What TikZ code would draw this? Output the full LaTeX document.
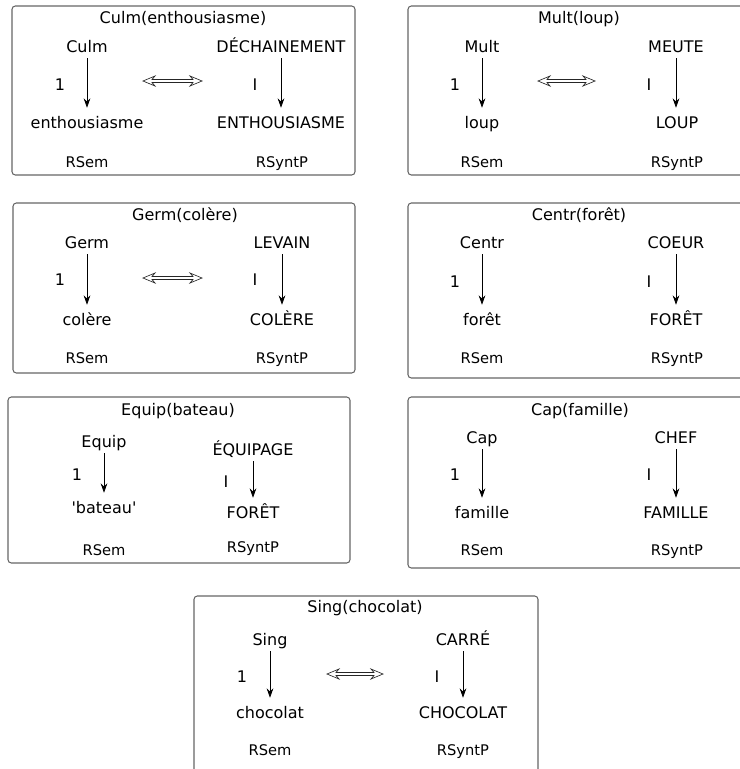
\documentclass[tikz,border=0pt]{standalone}
\usepackage{fontspec}
\setmainfont{DejaVu Sans}
\newfontfamily\rawfont{DejaVu Sans}[Ligatures=TeXOff]
\usetikzlibrary{arrows.meta}
\tikzset{
  lbl/.style={font=\fontsize{12}{14}\selectfont, anchor=base, inner sep=0pt, text height=9pt, text depth=2.5pt},
  lvl/.style={font=\fontsize{11}{13}\selectfont, anchor=base, inner sep=0pt},
  frame/.style={draw=black!60, rounded corners=2.5pt, line width=0.8pt},
  dep/.style={-{Stealth[length=7pt,width=5pt]}, line width=0.6pt, shorten <=2pt, shorten >=6pt},
  equiv/.style={draw=black!85, line width=0.5pt, line join=miter}
}
% open double-shafted arrow (outline) of length #2 starting at coordinate #1
\newcommand\eqvarrow[2]{%
  \draw[equiv] (#1) -- ++(12,-5) -- ++(-3,3.5) -- ++(#2-18,0) -- ++(-3,-3.5)
    -- ++(12,5) -- ++(-12,5) -- ++(3,-3.5) -- ++(-#2+18,0) -- ++(3,3.5) -- cycle;}
\begin{document}
\begin{tikzpicture}[x=0.75pt, y=-0.75pt]
\useasboundingbox (0,0) rectangle (740,769);
\begin{scope}
\clip (0,0) rectangle (740,769);

% ---------- Box 1: Culm ----------
\draw[frame] (12,6) rectangle (355,175);
\node[lbl] (t1) at (183,23) {Culm(enthousiasme)};
\node[lbl] (s1a) at (87,52) {Culm};
\node[lbl] (s1b) at (87,128) {enthousiasme};
\node[lbl] (n1) at (60,90) {1};
\node[lbl] (p1a) at (281,52) {DÉCHAINEMENT};
\node[lbl] (p1b) at (281,128) {ENTHOUSIASME};
\node[lbl] (r1) at (255,90) {I};
\node[lvl] (m1) at (87,167) {RSem};
\node[lvl] (y1) at (282,167) {RSyntP};
\draw[dep] (s1a) -- (s1b);
\draw[dep] (p1a) -- (p1b);
\coordinate (e1a) at (143,81);
\eqvarrow{e1a}{59}

% ---------- Box 2: Mult ----------
\draw[frame] (408,6) rectangle (750,175);
\node[lbl] (t2) at (579,23) {Mult(loup)};
\node[lbl] (s2a) at (482,52) {Mult};
\node[lbl] (s2b) at (482,128) {loup};
\node[lbl] (n2) at (455,90) {1};
\node[lbl] (p2a) at (676,52) {MEUTE};
\node[lbl] (p2b) at (677,128) {LOUP};
\node[lbl] (r2) at (649,90) {I};
\node[lvl] (m2) at (482,167) {RSem};
\node[lvl] (y2) at (677,167) {RSyntP};
\draw[dep] (s2a) -- (s2b);
\draw[dep] (p2a.south) -- (p2a.south |- p2b.north);
\coordinate (e2a) at (538,81);
\eqvarrow{e2a}{57}

% ---------- Box 3: Germ ----------
\draw[frame] (13,203) rectangle (355,373);
\node[lbl] (t3) at (185,220) {Germ(colère)};
\node[lbl] (s3a) at (87,248) {Germ};
\node[lbl] (s3b) at (87,325) {colère};
\node[lbl] (n3) at (60,285) {1};
\node[lbl] (p3a) at (282,248) {LEVAIN};
\node[lbl] (p3b) at (282,325) {COLÈRE};
\node[lbl] (r3) at (255,285) {I};
\node[lvl] (m3) at (87,363) {RSem};
\node[lvl] (y3) at (282,363) {RSyntP};
\draw[dep] (s3a) -- (s3b);
\draw[dep] (p3a) -- (p3b);
\coordinate (e3a) at (143,278);
\eqvarrow{e3a}{59}

% ---------- Box 4: Centr ----------
\draw[frame] (408,203) rectangle (750,378);
\node[lbl] (t4) at (579,220) {Centr(forêt)};
\node[lbl] (s4a) at (482,248) {Centr};
\node[lbl] (s4b) at (482,325) {forêt};
\node[lbl] (n4) at (455,287) {1};
\node[lbl] (p4a) at (676,248) {COEUR};
\node[lbl] (p4b) at (676,325) {FORÊT};
\node[lbl] (r4) at (649,287) {I};
\node[lvl] (m4) at (482,363) {RSem};
\node[lvl] (y4) at (677,363) {RSyntP};
\draw[dep] (s4a) -- (s4b);
\draw[dep] (p4a) -- (p4b);

% ---------- Box 5: Equip ----------
\draw[frame] (8,397) rectangle (350,563);
\node[lbl] (t5) at (178,415) {Equip(bateau)};
\node[lbl] (s5a) at (104,447) {Equip};
\node[lbl] (s5b) at (104,513) {\rawfont 'bateau'};
\node[lbl] (n5) at (77,480) {1};
\node[lbl] (p5a) at (253,455) {ÉQUIPAGE};
\node[lbl] (p5b) at (253,518) {FORÊT};
\node[lbl] (r5) at (226,487) {I};
\node[lvl] (m5) at (104,555) {RSem};
\node[lvl] (y5) at (253,552) {RSyntP};
\draw[dep] (s5a) -- (s5b);
\draw[dep] (p5a) -- (p5b);

% ---------- Box 6: Cap ----------
\draw[frame] (408,397) rectangle (750,568);
\node[lbl] (t6) at (580,415) {Cap(famille)};
\node[lbl] (s6a) at (482,443) {Cap};
\node[lbl] (s6b) at (482,518) {famille};
\node[lbl] (n6) at (455,480) {1};
\node[lbl] (p6a) at (676,443) {CHEF};
\node[lbl] (p6b) at (676,518) {FAMILLE};
\node[lbl] (r6) at (649,480) {I};
\node[lvl] (m6) at (482,555) {RSem};
\node[lvl] (y6) at (677,555) {RSyntP};
\draw[dep] (s6a) -- (s6b);
\draw[dep] (p6a) -- (p6b);

% ---------- Box 7: Sing ----------
\draw[frame] (194,596) rectangle (538,780);
\node[lbl] (t7) at (365,612) {Sing(chocolat)};
\node[lbl] (s7a) at (270,645) {Sing};
\node[lbl] (s7b) at (270,718) {chocolat};
\node[lbl] (n7) at (242,682) {1};
\node[lbl] (p7a) at (463,645) {CARRÉ};
\node[lbl] (p7b) at (463,718) {CHOCOLAT};
\node[lbl] (r7) at (437,682) {I};
\node[lvl] (m7) at (270,755) {RSem};
\node[lvl] (y7) at (463,755) {RSyntP};
\draw[dep] (s7a) -- (s7b);
\draw[dep] (p7a) -- (p7b);
\coordinate (e7a) at (327,674);
\eqvarrow{e7a}{56}
\end{scope}
\end{tikzpicture}
\end{document}
